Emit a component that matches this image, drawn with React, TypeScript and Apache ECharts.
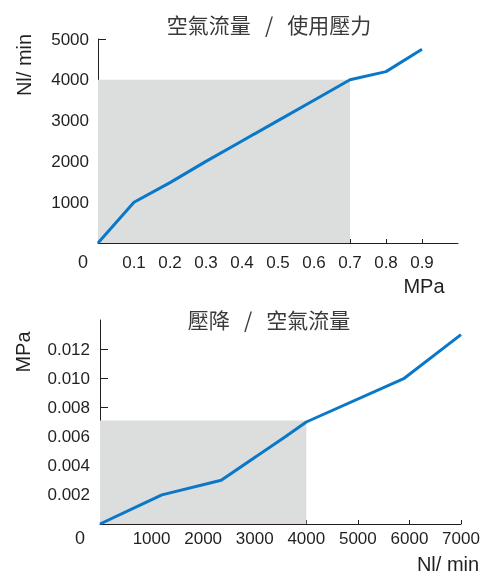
import React, { useEffect, useRef } from "react";
import * as echarts from "echarts";

// Chart 1: 空氣流量 / 使用壓力
const pressureMPa = [0, 0.1, 0.2, 0.3, 0.4, 0.5, 0.6, 0.7, 0.8, 0.9];
const flowNl = [0, 1000, 1480, 2000, 2500, 3000, 3500, 4000, 4200, 4750];
const topXTicks = [0.1, 0.2, 0.3, 0.4, 0.5, 0.6, 0.7, 0.8, 0.9];
const topYTicks = [1000, 2000, 3000, 4000, 5000];
const topShade = [0.7, 4000]; // shaded region up to [x, y]

// Chart 2: 壓降 / 空氣流量
const flowNl2 = [0, 1200, 2350, 3600, 4000, 5900, 7000];
const dropMPa = [0, 0.002, 0.003, 0.006, 0.007, 0.01, 0.013];
const botXTicks = [1000, 2000, 3000, 4000, 5000, 6000, 7000];
const botYTicks = [0.002, 0.004, 0.006, 0.008, 0.01, 0.012];
const botShade = [4000, 0.0071];

const AXIS = "#231f20";
const BLUE = "#0a78c8";
const GRAY = "#dcdddd";
const FONT = "Liberation Sans, Arial, sans-serif";
const CJK = "Noto Sans CJK TC, sans-serif";

export default function App() {
  const ref = useRef<HTMLDivElement>(null);
  useEffect(() => {
    if (!ref.current) return;
    const chart = echarts.init(ref.current, null, { renderer: "svg" });
    const axisCommon = {
      axisLine: { show: true, lineStyle: { color: AXIS, width: 1 } },
      splitLine: { show: false },
    };
    const label = { color: AXIS, fontSize: 17, fontFamily: FONT };
    chart.setOption({
      animation: false,
      grid: [
        { left: 98, top: 39, width: 360, height: 204 },
        { left: 100, top: 320, width: 361, height: 204 },
      ],
      xAxis: [
        {
          type: "value",
          gridIndex: 0,
          min: 0,
          max: 1,
          ...axisCommon,
          axisTick: { show: true, inside: true, length: 4, customValues: topXTicks, lineStyle: { color: AXIS } },
          axisLabel: { ...label, margin: 11, customValues: topXTicks, formatter: (v: number) => v.toFixed(1) },
        },
        {
          type: "value",
          gridIndex: 1,
          min: 0,
          max: 7000,
          ...axisCommon,
          axisTick: { show: true, inside: true, length: 4, customValues: botXTicks, lineStyle: { color: AXIS } },
          axisLabel: { ...label, margin: 6, customValues: botXTicks, formatter: (v: number) => String(v) },
        },
      ],
      yAxis: [
        {
          type: "value",
          gridIndex: 0,
          min: 0,
          max: 5000,
          ...axisCommon,
          axisTick: { show: true, inside: true, length: 8, customValues: topYTicks, lineStyle: { color: AXIS } },
          axisLabel: { ...label, margin: 9, customValues: topYTicks, formatter: (v: number) => String(v) },
        },
        {
          type: "value",
          gridIndex: 1,
          min: 0,
          max: 0.014,
          ...axisCommon,
          axisTick: { show: true, inside: true, length: 8, customValues: botYTicks, lineStyle: { color: AXIS } },
          axisLabel: { ...label, margin: 10, customValues: botYTicks, formatter: (v: number) => v.toFixed(3) },
        },
      ],
      series: [
        {
          type: "line",
          xAxisIndex: 0,
          yAxisIndex: 0,
          data: pressureMPa.map((x, i) => [x, flowNl[i]]),
          symbol: "none",
          lineStyle: { color: BLUE, width: 3 },
          z: 3,
          markArea: {
            silent: true,
            itemStyle: { color: GRAY, opacity: 1 },
            data: [[{ coord: [0, 0] }, { coord: topShade }]],
          },
        },
        {
          type: "line",
          xAxisIndex: 1,
          yAxisIndex: 1,
          data: flowNl2.map((x, i) => [x, dropMPa[i]]),
          symbol: "none",
          lineStyle: { color: BLUE, width: 3 },
          z: 3,
          markArea: {
            silent: true,
            itemStyle: { color: GRAY, opacity: 1 },
            data: [[{ coord: [0, 0] }, { coord: botShade }]],
          },
        },
      ],
      graphic: [
        { type: "text", x: 269, y: 24, style: { text: "空氣流量   /   使用壓力", fill: "#3a3a3a", font: `21px ${CJK}`, textAlign: "center", textVerticalAlign: "middle" } },
        { type: "text", x: 269, y: 319, style: { text: "壓降   /   空氣流量", fill: "#3a3a3a", font: `21px ${CJK}`, textAlign: "center", textVerticalAlign: "middle" } },
        { type: "text", x: 24, y: 65, rotation: Math.PI / 2, style: { text: "Nl/ min", fill: AXIS, font: `20px ${FONT}`, textAlign: "center", textVerticalAlign: "middle" } },
        { type: "text", x: 424, y: 286, style: { text: "MPa", fill: AXIS, font: `20px ${FONT}`, textAlign: "center", textVerticalAlign: "middle" } },
        { type: "text", x: 23, y: 352, rotation: Math.PI / 2, style: { text: "MPa", fill: AXIS, font: `20px ${FONT}`, textAlign: "center", textVerticalAlign: "middle" } },
        { type: "text", x: 448, y: 564, style: { text: "Nl/ min", fill: AXIS, font: `20px ${FONT}`, textAlign: "center", textVerticalAlign: "middle" } },
        { type: "text", x: 83, y: 262, style: { text: "0", fill: AXIS, font: `18px ${FONT}`, textAlign: "center", textVerticalAlign: "middle" } },
        { type: "text", x: 80, y: 538, style: { text: "0", fill: AXIS, font: `18px ${FONT}`, textAlign: "center", textVerticalAlign: "middle" } },
      ],
    });
    return () => chart.dispose();
  }, []);
  return <div ref={ref} style={{ position: "fixed", left: 0, top: 0, width: 486, height: 575 }} />;
}
